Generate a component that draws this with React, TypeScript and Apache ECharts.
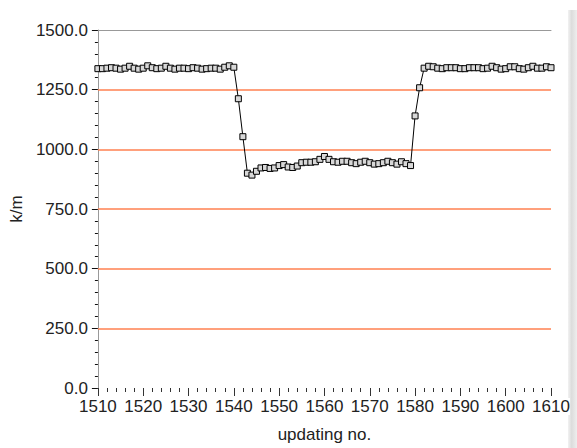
import React, { useEffect, useRef } from "react";
import * as echarts from "echarts";

const updatingNo: number[] = [];
for (let n = 1510; n <= 1610; n++) updatingNo.push(n);

const kmValues = [
  1338, 1338, 1340, 1342, 1340, 1336, 1340, 1348, 1340, 1336,
  1340, 1350, 1342, 1338, 1340, 1348, 1340, 1336, 1340, 1340,
  1338, 1342, 1340, 1336, 1338, 1340, 1340, 1336, 1344, 1350,
  1344, 1212, 1053, 900, 892, 908, 922, 924, 920, 922,
  932, 936, 926, 924, 930, 944, 946, 946, 948, 958,
  970, 958, 948, 946, 950, 950, 944, 940, 946, 950,
  944, 938, 940, 944, 950, 944, 938, 948, 940, 932,
  1140, 1258, 1340, 1348, 1346, 1340, 1338, 1342, 1342, 1342,
  1338, 1338, 1342, 1342, 1342, 1338, 1340, 1348, 1342, 1336,
  1338, 1346, 1346, 1338, 1336, 1342, 1348, 1340, 1340, 1346,
  1342,
];

const gridValues = [250, 500, 750, 1000, 1250];
const yTickStep = 250;
const xTickStep = 10;

export default function App() {
  const ref = useRef<HTMLDivElement>(null);
  useEffect(() => {
    if (!ref.current) return;
    const chart = echarts.init(ref.current, null, { renderer: "svg" });
    const orange = "#FF8050";
    const data = updatingNo.map((x, i) => [x, kmValues[i]]);
    chart.setOption({
      animation: false,
      backgroundColor: "#ffffff",
      grid: { left: 93, right: 26, top: 30, bottom: 58, containLabel: false },
      xAxis: [
        {
          type: "value",
          min: 1510,
          max: 1610,
          interval: xTickStep,
          name: "updating no.",
          nameLocation: "middle",
          nameGap: 38,
          nameTextStyle: { fontFamily: "Liberation Sans, Arial", fontSize: 17, color: "#222" },
          axisLine: { show: false },
          axisTick: { show: true, length: 8, lineStyle: { color: "#333", width: 1 } },
          minorTick: { show: true, splitNumber: 5, length: 4, lineStyle: { color: "#333", width: 1 } },
          axisLabel: {
            margin: 10,
            fontFamily: "Liberation Sans Narrow, Liberation Sans, Arial",
            fontSize: 17,
            color: "#222",
            backgroundColor: "#fff",
            formatter: (v: number) => String(v),
          },
          splitLine: { show: false },
        },
        {
          type: "value",
          position: "top",
          min: 1510,
          max: 1610,
          interval: xTickStep,
          axisLine: { show: true, lineStyle: { color: "#999", width: 1 } },
          axisTick: { show: false },
          axisLabel: { show: false },
          splitLine: { show: false },
        },
      ],
      yAxis: {
        type: "value",
        min: 0,
        max: 1500,
        interval: yTickStep,
        name: "k/m",
        nameLocation: "middle",
        nameGap: 64,
        nameRotate: 90,
        nameTextStyle: { fontFamily: "Liberation Sans, Arial", fontSize: 17, color: "#222" },
        axisLine: { show: true, lineStyle: { color: "#999", width: 1 } },
        axisTick: { show: true, length: 6, lineStyle: { color: "#111", width: 1 } },
        minorTick: { show: true, splitNumber: 5, length: 3, lineStyle: { color: "#111", width: 1 } },
        axisLabel: {
          margin: 10,
          fontFamily: "Liberation Sans, Arial",
          fontSize: 17,
          color: "#222",
          formatter: (v: number) => v.toFixed(1),
        },
        splitLine: { show: false },
      },
      series: [
        {
          type: "line",
          xAxisIndex: 0,
          data,
          symbol: "rect",
          symbolSize: 6,
          showAllSymbol: true,
          lineStyle: { color: "#000", width: 1 },
          itemStyle: { color: "#d8d8d8", borderColor: "#000", borderWidth: 1 },
          z: 3,
          markLine: {
            silent: true,
            symbol: "none",
            label: { show: false },
            lineStyle: { color: orange, width: 1.5, type: "solid" },
            data: gridValues.map((v) => ({ yAxis: v })),
            z: 1,
          },
        },
      ],
      graphic: [
        {
          type: "rect",
          left: 568,
          top: 10,
          shape: { width: 9, height: 438 },
          style: {
            fill: new echarts.graphic.LinearGradient(0, 0, 1, 0, [
              { offset: 0, color: "#f2f2f2" },
              { offset: 0.4, color: "#dcdcdc" },
              { offset: 1, color: "#eeeeee" },
            ]),
          },
          z: -1,
        },
      ],
    });
    return () => chart.dispose();
  }, []);
  return (
    <div
      ref={ref}
      style={{ position: "absolute", left: 0, top: 0, width: 577, height: 448 }}
    />
  );
}
